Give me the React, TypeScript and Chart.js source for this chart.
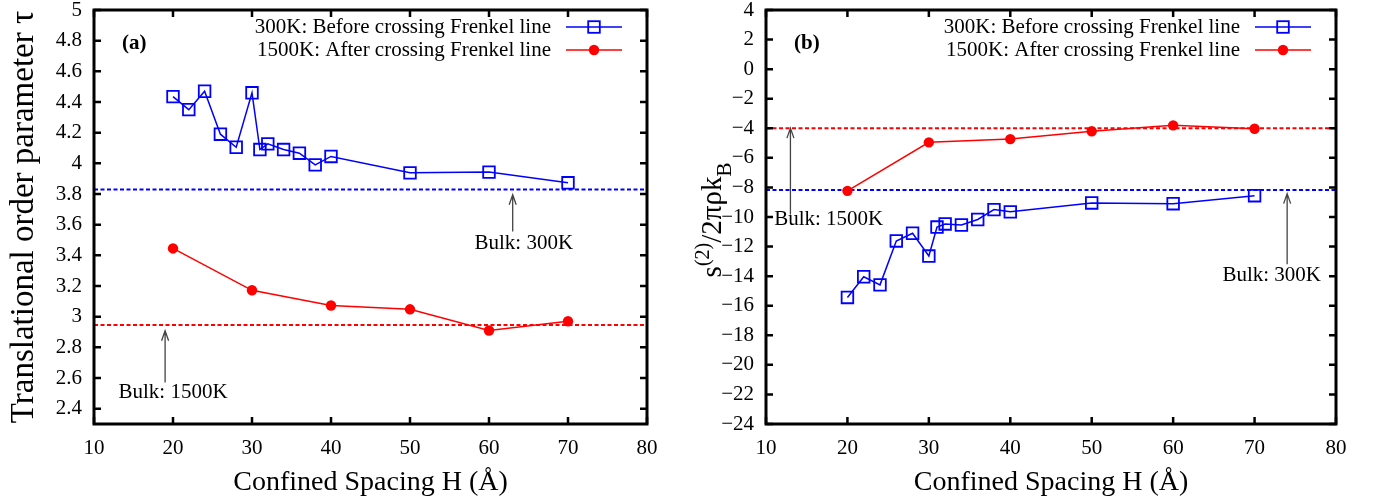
import React, { useEffect, useRef } from 'react';
import { Chart, registerables } from 'chart.js';

Chart.register(...registerables);

const FONT = '"Liberation Serif", "Times New Roman", serif';
const BLUE = '#0000ff';
const RED = '#ff0000';
const ARROW = '#444444';

// ---------- data ----------
const legendLabels = ['300K: Before crossing Frenkel line', '1500K: After crossing Frenkel line'];
const xTicks = [10, 20, 30, 40, 50, 60, 70, 80];

const spacing300 = [20, 22, 24, 26, 28, 30, 31, 32, 34, 36, 38, 40, 50, 60, 70];
const spacing1500 = [20, 30, 40, 50, 60, 70];

// panel (a): translational order parameter tau
const tau300 = [4.435, 4.35, 4.47, 4.19, 4.105, 4.46, 4.09, 4.127, 4.09, 4.066, 3.99, 4.045, 3.938, 3.943, 3.873];
const tau1500 = [3.445, 3.172, 3.073, 3.048, 2.91, 2.97];
const tauBulk300 = 3.83;
const tauBulk1500 = 2.945;
const tauTicks = [2.4, 2.6, 2.8, 3, 3.2, 3.4, 3.6, 3.8, 4, 4.2, 4.4, 4.6, 4.8, 5];

// panel (b): two-body excess entropy s(2)/2πρkB
const s2_300 = [-15.44, -14.04, -14.59, -11.62, -11.1, -12.64, -10.68, -10.47, -10.54, -10.17, -9.5, -9.65, -9.05, -9.1, -8.56];
const s2_1500 = [-8.23, -4.95, -4.73, -4.2, -3.8, -4.03];
const s2Bulk300 = -8.17;
const s2Bulk1500 = -4.0;
const s2Ticks = [-24, -22, -20, -18, -16, -14, -12, -10, -8, -6, -4, -2, 0, 2, 4];

// annotations (data coordinates)
const noteTextsA = ['Bulk: 300K', 'Bulk: 1500K'];
const noteArrowXA = [63, 19];
const noteArrowFromA = [3.556, 2.571];
const noteArrowToA = [3.795, 2.908];
const noteTextXA = [64.4, 20];
const noteTextYA = [3.478, 2.506];

const noteTextsB = ['Bulk: 1500K', 'Bulk: 300K'];
const noteArrowXB = [13, 74];
const noteArrowFromB = [-9.83, -13.19];
const noteArrowToB = [-3.99, -8.42];
const noteTextXB = [17.7, 72.1];
const noteTextYB = [-10.17, -13.93];

interface PanelSpec {
  tag: string;
  y300: number[];
  y1500: number[];
  bulk300: number;
  bulk1500: number;
  yMin: number;
  yMax: number;
  yTicks: number[];
  yAxisWidth: number;
  padRight: number;
  yTitle: string | null;
  yTitleBaseX: number;
  notes: { texts: string[]; ax: number[]; from: number[]; to: number[]; tx: number[]; ty: number[] };
}

const fmt = (v: number) => (v < 0 ? '\u2212' + String(Math.abs(v)) : String(v));

function makeDecor(p: PanelSpec) {
  return {
    id: 'decor',
    afterDraw(chart: any) {
      const { ctx, chartArea: a, scales } = chart;
      const xs = scales.x;
      const ys = scales.y;
      ctx.save();

      // border
      ctx.strokeStyle = '#000';
      ctx.lineWidth = 3;
      ctx.strokeRect(a.left, a.top, a.right - a.left, a.bottom - a.top);

      // inward ticks on all sides
      ctx.lineWidth = 2.5;
      const tl = 7;
      ctx.beginPath();
      for (const v of xTicks) {
        const px = xs.getPixelForValue(v);
        ctx.moveTo(px, a.bottom);
        ctx.lineTo(px, a.bottom - tl);
        ctx.moveTo(px, a.top);
        ctx.lineTo(px, a.top + tl);
      }
      for (const v of p.yTicks) {
        const py = ys.getPixelForValue(v);
        ctx.moveTo(a.left, py);
        ctx.lineTo(a.left + tl, py);
        ctx.moveTo(a.right, py);
        ctx.lineTo(a.right - tl, py);
      }
      ctx.stroke();

      // panel tag
      ctx.fillStyle = '#000';
      ctx.font = `bold 21px ${FONT}`;
      ctx.textAlign = 'left';
      ctx.textBaseline = 'middle';
      ctx.fillText(p.tag, a.left + 28, a.top + 34);

      // legend
      ctx.font = `21px ${FONT}`;
      ctx.textAlign = 'right';
      const rows = [a.top + 17, a.top + 40];
      const colors = [BLUE, RED];
      rows.forEach((ry, i) => {
        ctx.fillStyle = '#000';
        ctx.fillText(legendLabels[i], a.right - 96, ry);
        ctx.strokeStyle = colors[i];
        ctx.lineWidth = 1.5;
        ctx.beginPath();
        ctx.moveTo(a.right - 81, ry);
        ctx.lineTo(a.right - 25, ry);
        ctx.stroke();
        const mx = a.right - 53;
        if (i === 0) {
          ctx.lineWidth = 1.8;
          ctx.strokeRect(mx - 5.8, ry - 5.8, 11.6, 11.6);
        } else {
          ctx.fillStyle = RED;
          ctx.beginPath();
          ctx.arc(mx, ry, 5.2, 0, Math.PI * 2);
          ctx.fill();
        }
      });

      // bulk annotations with arrows
      const n = p.notes;
      for (let i = 0; i < n.texts.length; i++) {
        const ax = xs.getPixelForValue(n.ax[i]);
        const y0 = ys.getPixelForValue(n.from[i]);
        const y1 = ys.getPixelForValue(n.to[i]);
        ctx.strokeStyle = ARROW;
        ctx.lineWidth = 1.3;
        ctx.beginPath();
        ctx.moveTo(ax, y0);
        ctx.lineTo(ax, y1);
        ctx.moveTo(ax - 3.5, y1 + 10);
        ctx.lineTo(ax, y1);
        ctx.lineTo(ax + 3.5, y1 + 10);
        ctx.stroke();
        ctx.fillStyle = '#000';
        ctx.font = `21px ${FONT}`;
        ctx.textAlign = 'center';
        ctx.textBaseline = 'middle';
        ctx.fillText(n.texts[i], xs.getPixelForValue(n.tx[i]), ys.getPixelForValue(n.ty[i]));
      }

      // custom rotated y title with super/subscripts
      if (p.yTitle === null) {
        const parts = [
          { t: 's', size: 29, dy: 0 },
          { t: '(2)', size: 20, dy: -12 },
          { t: '/2\u03C0\u03C1k', size: 29, dy: 0 },
          { t: 'B', size: 21, dy: 10 },
        ];
        let total = 0;
        const widths = parts.map((pt) => {
          ctx.font = `${pt.size}px ${FONT}`;
          const w = ctx.measureText(pt.t).width;
          total += w;
          return w;
        });
        ctx.translate(p.yTitleBaseX, (a.top + a.bottom) / 2 + 3);
        ctx.rotate(-Math.PI / 2);
        ctx.textAlign = 'left';
        ctx.textBaseline = 'alphabetic';
        ctx.fillStyle = '#000';
        let x = -total / 2;
        parts.forEach((pt, i) => {
          ctx.font = `${pt.size}px ${FONT}`;
          ctx.fillText(pt.t, x, pt.dy);
          x += widths[i];
        });
      }
      ctx.restore();
    },
  };
}

function buildConfig(p: PanelSpec): any {
  const tickFont = { family: FONT, size: 21 };
  return {
    type: 'line',
    data: {
      datasets: [
        {
          label: legendLabels[0],
          data: spacing300.map((x, i) => ({ x, y: p.y300[i] })),
          borderColor: BLUE,
          borderWidth: 1.5,
          pointStyle: 'rect',
          pointRadius: 8.2,
          pointBorderWidth: 1.8,
          pointBorderColor: BLUE,
          pointBackgroundColor: 'rgba(0,0,0,0)',
          tension: 0,
          fill: false,
        },
        {
          label: legendLabels[1],
          data: spacing1500.map((x, i) => ({ x, y: p.y1500[i] })),
          borderColor: RED,
          borderWidth: 1.5,
          pointStyle: 'circle',
          pointRadius: 5.2,
          pointBorderWidth: 0,
          pointBorderColor: RED,
          pointBackgroundColor: RED,
          tension: 0,
          fill: false,
        },
        {
          label: 'bulk300',
          data: [
            { x: xTicks[0], y: p.bulk300 },
            { x: xTicks[xTicks.length - 1], y: p.bulk300 },
          ],
          borderColor: BLUE,
          borderWidth: 2,
          borderDash: [4, 2.5],
          pointRadius: 0,
          fill: false,
        },
        {
          label: 'bulk1500',
          data: [
            { x: xTicks[0], y: p.bulk1500 },
            { x: xTicks[xTicks.length - 1], y: p.bulk1500 },
          ],
          borderColor: RED,
          borderWidth: 2,
          borderDash: [4, 2.5],
          pointRadius: 0,
          fill: false,
        },
      ],
    },
    options: {
      responsive: false,
      animation: false,
      events: [],
      layout: { padding: { top: 7, right: p.padRight, left: 0, bottom: 0 } },
      plugins: { legend: { display: false }, tooltip: { enabled: false }, title: { display: false } },
      scales: {
        x: {
          type: 'linear',
          min: xTicks[0],
          max: xTicks[xTicks.length - 1],
          afterBuildTicks: (s: any) => {
            s.ticks = xTicks.map((v) => ({ value: v }));
          },
          afterFit: (s: any) => {
            s.height = 80;
            s.paddingLeft = 0;
            s.paddingRight = 0;
          },
          ticks: { font: tickFont, color: '#000', padding: 12, maxRotation: 0, autoSkip: false, callback: (v: number) => fmt(v) },
          grid: { display: false, drawTicks: false },
          border: { display: false },
          title: {
            display: true,
            text: 'Confined Spacing H (\u00C5)',
            font: { family: FONT, size: 28 },
            color: '#000',
            padding: { top: 0, bottom: 5 },
          },
        },
        y: {
          type: 'linear',
          min: p.yMin,
          max: p.yMax,
          afterBuildTicks: (s: any) => {
            s.ticks = p.yTicks.map((v) => ({ value: v }));
          },
          afterFit: (s: any) => {
            s.width = p.yAxisWidth;
            s.paddingTop = 0;
            s.paddingBottom = 0;
          },
          ticks: { font: tickFont, color: '#000', padding: 12, autoSkip: false, callback: (v: number) => fmt(v) },
          grid: { display: false, drawTicks: false },
          border: { display: false },
          title: {
            display: p.yTitle !== null,
            text: p.yTitle || '',
            font: { family: FONT, size: 33 },
            color: '#000',
            padding: { top: 5, bottom: 0 },
          },
        },
      },
    },
    plugins: [makeDecor(p)],
  };
}

const panelA: PanelSpec = {
  tag: '(a)',
  y300: tau300,
  y1500: tau1500,
  bulk300: tauBulk300,
  bulk1500: tauBulk1500,
  yMin: 2.3,
  yMax: 5,
  yTicks: tauTicks,
  yAxisWidth: 94,
  padRight: 42,
  yTitle: 'Translational order parameter \u03C4',
  yTitleBaseX: 0,
  notes: { texts: noteTextsA, ax: noteArrowXA, from: noteArrowFromA, to: noteArrowToA, tx: noteTextXA, ty: noteTextYA },
};

const panelB: PanelSpec = {
  tag: '(b)',
  y300: s2_300,
  y1500: s2_1500,
  bulk300: s2Bulk300,
  bulk1500: s2Bulk1500,
  yMin: -24,
  yMax: 4,
  yTicks: s2Ticks,
  yAxisWidth: 77,
  padRight: 43,
  yTitle: null,
  yTitleBaseX: 32,
  notes: { texts: noteTextsB, ax: noteArrowXB, from: noteArrowFromB, to: noteArrowToB, tx: noteTextXB, ty: noteTextYB },
};

function Panel({ spec, left, width }: { spec: PanelSpec; left: number; width: number }) {
  const ref = useRef<HTMLCanvasElement>(null);
  useEffect(() => {
    if (!ref.current) return;
    const chart = new Chart(ref.current, buildConfig(spec));
    return () => chart.destroy();
  }, [spec]);
  return (
    <div style={{ position: 'absolute', left, top: 0, width, height: 504 }}>
      <canvas ref={ref} width={width} height={504} style={{ width, height: 504, display: 'block' }} />
    </div>
  );
}

export default function App() {
  return (
    <div style={{ position: 'absolute', left: 0, top: 0, width: 1379, height: 504, background: '#fff', overflow: 'hidden' }}>
      <Panel spec={panelA} left={0} width={689} />
      <Panel spec={panelB} left={689} width={690} />
    </div>
  );
}
